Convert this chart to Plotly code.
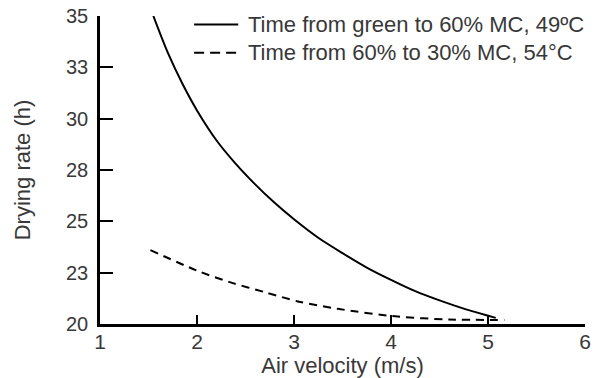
import plotly.graph_objects as go

# Data
velocity_solid = [1.55, 1.7, 1.85, 2.0, 2.2, 2.4, 2.6, 2.8, 3.0, 3.25, 3.5,
                  3.75, 4.0, 4.25, 4.5, 4.75, 5.08]
time_green_to_60 = [35.0, 33.2, 31.7, 30.4, 28.95, 27.8, 26.8, 25.9, 25.1, 24.2,
                    23.45, 22.75, 22.15, 21.6, 21.15, 20.75, 20.3]

velocity_dashed = [1.52, 2.0, 2.33, 2.7, 3.04, 3.45, 4.07, 4.6, 5.17]
time_60_to_30 = [23.6, 22.6, 22.05, 21.55, 21.1, 20.74, 20.36, 20.22, 20.2]

y_tickvals = [20, 22.5, 25, 27.5, 30, 32.5, 35]
y_ticktext = ["20", "23", "25", "28", "30", "33", "35"]
x_tickvals = [1, 2, 3, 4, 5, 6]

name_solid = "Time from green to 60% MC, 49ºC"
name_dashed = "Time from 60% to 30% MC, 54°C"

font_family = "Liberation Sans, Arial, sans-serif"
text_color = "#383838"
dash_style = "8px,6px"

fig = go.Figure()
fig.add_trace(go.Scatter(
    x=velocity_solid, y=time_green_to_60, mode="lines", name=name_solid,
    line=dict(color="black", width=2, shape="spline", smoothing=0.8),
))
fig.add_trace(go.Scatter(
    x=velocity_dashed, y=time_60_to_30, mode="lines", name=name_dashed,
    line=dict(color="black", width=2, shape="spline", smoothing=0.8,
              dash=dash_style),
))

# Manual legend (keys drawn in paper coordinates)
legend_rows = [
    (name_solid, 0.972, "solid"),
    (name_dashed, 0.881, "10px,6px"),
]
for label, ypos, dash in legend_rows:
    fig.add_shape(type="line", xref="paper", yref="paper",
                  x0=0.194, x1=0.285, y0=ypos, y1=ypos,
                  line=dict(color="black", width=2, dash=dash))
    fig.add_annotation(xref="paper", yref="paper", x=0.301, y=ypos,
                       text=label, showarrow=False, xanchor="left",
                       yanchor="middle", font=dict(size=22, color=text_color))

fig.update_layout(
    width=591, height=370,
    margin=dict(l=92, r=10, t=8, b=53),
    paper_bgcolor="white", plot_bgcolor="white",
    font=dict(family=font_family, size=21, color=text_color),
    showlegend=False,
    xaxis=dict(
        range=[1, 6], tickvals=x_tickvals, ticks="inside", ticklen=9,
        tickwidth=2, tickcolor="black", showline=True, linecolor="black",
        linewidth=2.5, showgrid=False, zeroline=False, automargin=True,
        tickfont=dict(size=21), ticklabelstandoff=-3,
        ticklabeloverflow="allow",
        title=dict(text="Air velocity (m/s)", standoff=2, font=dict(size=22)),
    ),
    yaxis=dict(
        range=[20, 35], tickvals=y_tickvals, ticktext=y_ticktext,
        ticks="inside", ticklen=13, tickwidth=2, tickcolor="black",
        showline=True, linecolor="black", linewidth=2.5, showgrid=False,
        zeroline=False, automargin=False, tickfont=dict(size=20),
        ticklabelstandoff=5, ticklabeloverflow="allow",
        title=dict(text="Drying rate (h)", standoff=30, font=dict(size=22)),
    ),
)

fig.write_html("out.html")
